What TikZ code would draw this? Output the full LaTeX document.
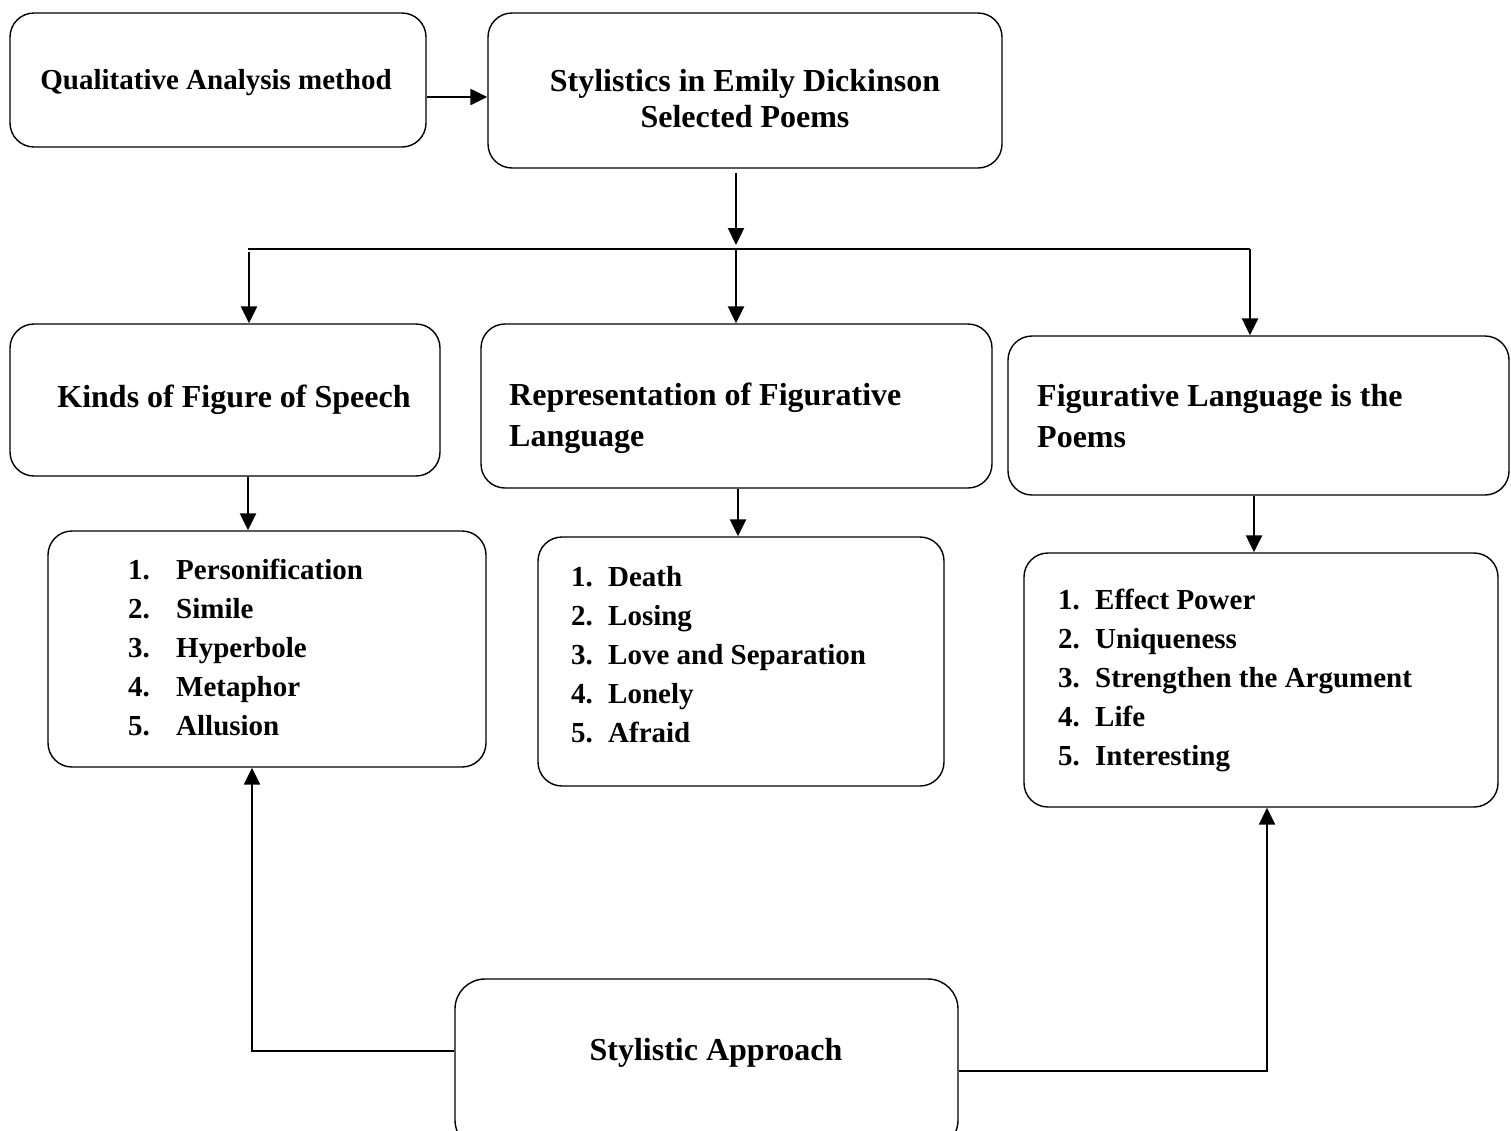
\documentclass[tikz,border=0pt]{standalone}
\usepackage{fontspec}
\setmainfont{Liberation Serif}
\usetikzlibrary{arrows.meta}
\begin{document}
\begin{tikzpicture}[x=1pt,y=-1pt,
  box/.style={draw, line width=1.4pt, rounded corners=24pt, inner sep=0pt},
  txt/.style={inner sep=0pt, font=\bfseries\fontsize{32}{41}\selectfont},
  lst/.style={inner sep=0pt, align=left, font=\bfseries\fontsize{29}{39}\selectfont, anchor=base west},
  arr/.style={line width=2.4pt, -{Triangle[length=17pt,width=16pt]}},
  ln/.style={line width=2.2pt}]
\useasboundingbox (0,0) rectangle (1511,1130);
% boxes
\node[box, minimum width=416pt, minimum height=134pt] (a) at (218,80) {};
\node[box, minimum width=514pt, minimum height=155pt] (b) at (745,90.5) {};
\node[box, minimum width=430pt, minimum height=152pt] (c) at (225,400) {};
\node[box, minimum width=511pt, minimum height=164pt] (d) at (736.5,406) {};
\node[box, minimum width=501pt, minimum height=159pt] (e) at (1258.5,415.5) {};
\node[box, minimum width=438pt, minimum height=236pt] (f) at (267,649) {};
\node[box, minimum width=406pt, minimum height=249pt] (g) at (741,661.5) {};
\node[box, minimum width=474pt, minimum height=254pt] (h) at (1261,680) {};
\node[box, minimum width=503pt, minimum height=171pt, rounded corners=30pt] (i) at (706.5,1064.5) {};
% texts (base anchor of a multi-line node = baseline of its last line)
\node[txt, font=\bfseries\fontsize{29}{36}\selectfont, anchor=base] (at) at (216,89) {Qualitative Analysis method};
\node[txt, align=center, font=\bfseries\fontsize{32}{36}\selectfont, anchor=base] (bt) at (745,127) {Stylistics in Emily Dickinson\\Selected Poems};
\node[txt, anchor=base] (ct) at (234,407) {Kinds of Figure of Speech};
\node[txt, align=left, anchor=base west] (dt) at (509,446) {Representation of Figurative\\Language};
\node[txt, align=left, anchor=base west] (et) at (1037,447) {Figurative Language is the\\Poems};
\node[txt, anchor=base] (it) at (716,1060) {Stylistic Approach};
\node[lst] (ft) at (128,735.5) {\makebox[48pt][l]{1.}Personification\\\makebox[48pt][l]{2.}Simile\\\makebox[48pt][l]{3.}Hyperbole\\\makebox[48pt][l]{4.}Metaphor\\\makebox[48pt][l]{5.}Allusion};
\node[lst] (gt) at (571,742) {\makebox[37pt][l]{1.}Death\\\makebox[37pt][l]{2.}Losing\\\makebox[37pt][l]{3.}Love and Separation\\\makebox[37pt][l]{4.}Lonely\\\makebox[37pt][l]{5.}Afraid};
\node[lst] (ht) at (1058,765) {\makebox[37pt][l]{1.}Effect Power\\\makebox[37pt][l]{2.}Uniqueness\\\makebox[37pt][l]{3.}Strengthen the Argument\\\makebox[37pt][l]{4.}Life\\\makebox[37pt][l]{5.}Interesting};
% connectors
\coordinate (hL) at (249,249);
\coordinate (hM) at (736,249);
\coordinate (hR) at (1250,249);
\draw[arr] ([yshift=-17pt]a.east) -- ([yshift=-17pt]a.east -| b.west);
\draw[arr] ([yshift=-4pt]b.south -| hM) -- ([yshift=4pt]hM);
\draw[ln] (248,249) -- (hR);
\draw[arr] ([yshift=-3pt]hL) -- (hL |- c.north);
\draw[arr] (hM) -- (hM |- d.north);
\draw[arr] (hR) -- (hR |- e.north);
\draw[arr] ([xshift=23pt]c.south) -- ([xshift=23pt]c.south |- f.north);
\draw[arr] ([xshift=1.5pt]d.south) -- ([xshift=1.5pt]d.south |- g.north);
\draw[arr] ([xshift=-4.5pt]e.south) -- ([xshift=-4.5pt]e.south |- h.north);
\draw[arr] ([yshift=13.5pt]i.west) -| ([xshift=-15pt]f.south);
\draw[arr] ([yshift=-6.5pt]i.east) -| ([xshift=6pt]h.south);
\end{tikzpicture}
\end{document}
